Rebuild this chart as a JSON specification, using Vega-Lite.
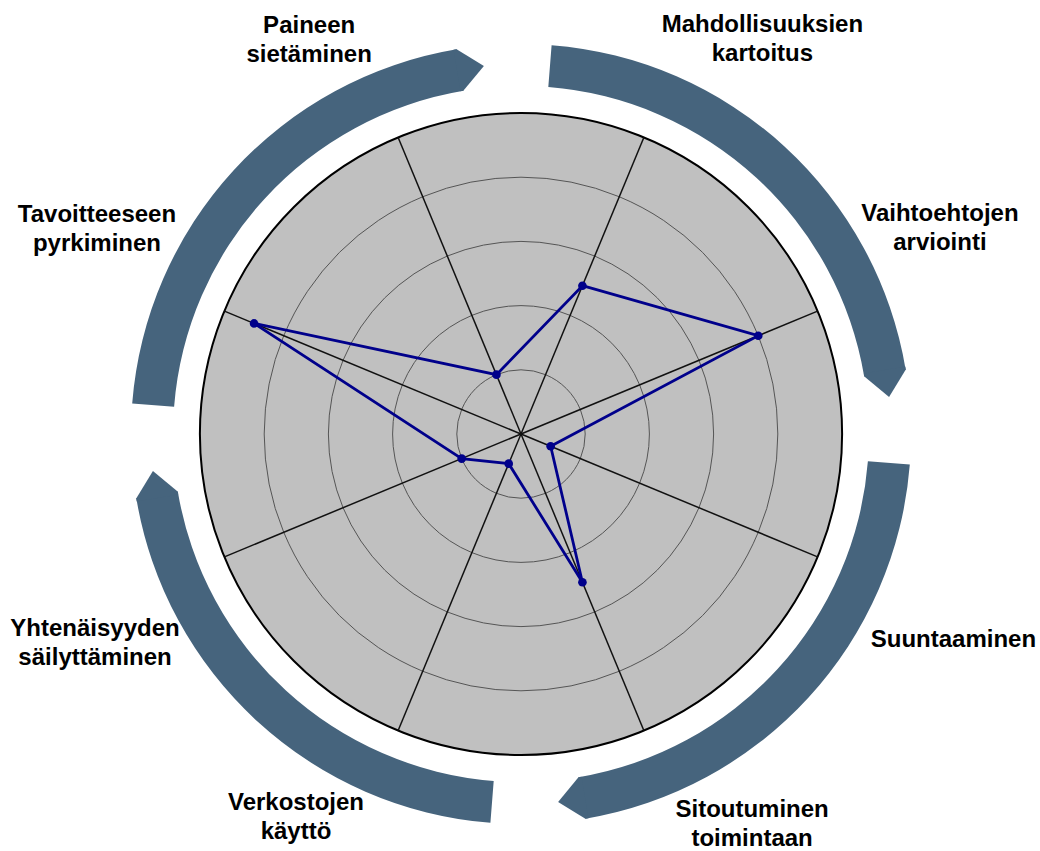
{
  "$schema": "https://vega.github.io/schema/vega-lite/v6.json",
  "width": 1040,
  "height": 851,
  "autosize": {"type": "none"},
  "padding": 0,
  "background": "white",
  "config": {"view": {"stroke": null}},
  "datasets": {
    "scores": [
      {"dimension": "Mahdollisuuksien kartoitus", "order": 1, "score": 5},
      {"dimension": "Vaihtoehtojen arviointi", "order": 2, "score": 8},
      {"dimension": "Suuntaaminen", "order": 3, "score": 1},
      {"dimension": "Sitoutuminen toimintaan", "order": 4, "score": 5},
      {"dimension": "Verkostojen käyttö", "order": 5, "score": 1},
      {"dimension": "Yhtenäisyyden säilyttäminen", "order": 6, "score": 2},
      {"dimension": "Tavoitteeseen pyrkiminen", "order": 7, "score": 9},
      {"dimension": "Paineen sietäminen", "order": 8, "score": 2}
    ],
    "rings": [{"level": 2}, {"level": 4}, {"level": 6}, {"level": 8}],
    "bands": [
      {"band": 1, "start": 4.5, "end": 80.5},
      {"band": 2, "start": 94.5, "end": 170.5},
      {"band": 3, "start": 184.5, "end": 260.5},
      {"band": 4, "start": 274.5, "end": 350.5}
    ],
    "labels": [
      {"label": "Mahdollisuuksien\nkartoitus", "lx": 7.52, "ly": 12.52},
      {"label": "Vaihtoehtojen\narviointi", "lx": 13.05, "ly": 6.64},
      {"label": "Suuntaaminen", "lx": 13.47, "ly": -6.64},
      {"label": "Sitoutuminen\ntoimintaan", "lx": 7.2, "ly": -11.93},
      {"label": "Verkostojen\nkäyttö", "lx": -7.01, "ly": -11.72},
      {"label": "Yhtenäisyyden\nsäilyttäminen", "lx": -13.27, "ly": -6.29},
      {"label": "Tavoitteeseen\npyrkiminen", "lx": -13.21, "ly": 6.6},
      {"label": "Paineen\nsietäminen", "lx": -6.6, "ly": 12.49}
    ]
  },
  "layer": [
    {
      "data": {"values": [{"disk": 1}]},
      "mark": {"type": "arc", "fill": "#c0c0c0", "stroke": "#000000", "strokeWidth": 2},
      "encoding": {
        "x": {"datum": 0, "type": "quantitative", "scale": {"domain": [-16.2305, 16.1682], "nice": false, "zero": false}, "axis": null},
        "y": {"datum": 0, "type": "quantitative", "scale": {"domain": [-12.9907, 13.5202], "nice": false, "zero": false}, "axis": null},
        "theta": {"datum": 0, "type": "quantitative", "scale": {"domain": [0, 360], "range": [0, 6.283185307179586]}},
        "theta2": {"datum": 360},
        "radius": {"datum": 10, "type": "quantitative", "scale": {"type": "linear", "domain": [0, 10], "range": [0, 321], "zero": true}}
      }
    },
    {
      "data": {"name": "rings"},
      "mark": {"type": "arc", "filled": false, "color": "#555555", "strokeWidth": 1},
      "encoding": {
        "x": {"datum": 0, "type": "quantitative", "scale": {"domain": [-16.2305, 16.1682], "nice": false, "zero": false}, "axis": null},
        "y": {"datum": 0, "type": "quantitative", "scale": {"domain": [-12.9907, 13.5202], "nice": false, "zero": false}, "axis": null},
        "theta": {"datum": 0, "type": "quantitative", "scale": {"domain": [0, 360], "range": [0, 6.283185307179586]}},
        "theta2": {"datum": 360},
        "radius": {"field": "level", "type": "quantitative", "stack": null, "scale": {"type": "linear", "domain": [0, 10], "range": [0, 321], "zero": true}}
      }
    },
    {
      "data": {"name": "scores"},
      "transform": [
        {"filter": "datum.order <= 4"},
        {"calculate": "(22.5 + 45 * (datum.order - 1)) * PI / 180", "as": "rad"},
        {"calculate": "10 * sin(datum.rad)", "as": "ex"},
        {"calculate": "10 * cos(datum.rad)", "as": "ey"},
        {"calculate": "-datum.ex", "as": "ox"},
        {"calculate": "-datum.ey", "as": "oy"}
      ],
      "mark": {"type": "rule", "color": "#111111", "strokeWidth": 1.5},
      "encoding": {
        "x": {"field": "ox", "type": "quantitative", "scale": {"domain": [-16.2305, 16.1682], "nice": false, "zero": false}, "axis": null},
        "y": {"field": "oy", "type": "quantitative", "scale": {"domain": [-12.9907, 13.5202], "nice": false, "zero": false}, "axis": null},
        "x2": {"field": "ex"},
        "y2": {"field": "ey"}
      }
    },
    {
      "data": {"name": "scores"},
      "transform": [
        {"calculate": "(22.5 + 45 * (datum.order - 1)) * PI / 180", "as": "rad"},
        {"calculate": "datum.score * sin(datum.rad)", "as": "px"},
        {"calculate": "datum.score * cos(datum.rad)", "as": "py"}
      ],
      "mark": {"type": "line", "interpolate": "linear-closed", "color": "#00008b", "strokeWidth": 2.8},
      "encoding": {
        "x": {"field": "px", "type": "quantitative", "scale": {"domain": [-16.2305, 16.1682], "nice": false, "zero": false}, "axis": null},
        "y": {"field": "py", "type": "quantitative", "scale": {"domain": [-12.9907, 13.5202], "nice": false, "zero": false}, "axis": null},
        "order": {"field": "order", "type": "quantitative"}
      }
    },
    {
      "data": {"name": "scores"},
      "transform": [
        {"calculate": "(22.5 + 45 * (datum.order - 1)) * PI / 180", "as": "rad"},
        {"calculate": "datum.score * sin(datum.rad)", "as": "px"},
        {"calculate": "datum.score * cos(datum.rad)", "as": "py"}
      ],
      "mark": {"type": "point", "filled": true, "color": "#00008b", "size": 75, "opacity": 1},
      "encoding": {
        "x": {"field": "px", "type": "quantitative", "scale": {"domain": [-16.2305, 16.1682], "nice": false, "zero": false}, "axis": null},
        "y": {"field": "py", "type": "quantitative", "scale": {"domain": [-12.9907, 13.5202], "nice": false, "zero": false}, "axis": null},
        "tooltip": [{"field": "dimension", "type": "nominal"}, {"field": "score", "type": "quantitative"}]
      }
    },
    {
      "data": {"name": "bands"},
      "mark": {"type": "arc", "fill": "#46647d", "strokeWidth": 0},
      "encoding": {
        "x": {"datum": 0, "type": "quantitative", "scale": {"domain": [-16.2305, 16.1682], "nice": false, "zero": false}, "axis": null},
        "y": {"datum": 0, "type": "quantitative", "scale": {"domain": [-12.9907, 13.5202], "nice": false, "zero": false}, "axis": null},
        "theta": {"field": "start", "type": "quantitative", "stack": null, "scale": {"domain": [0, 360], "range": [0, 6.283185307179586]}},
        "theta2": {"field": "end"},
        "radius": {"datum": 12.15, "type": "quantitative", "scale": {"type": "linear", "domain": [0, 10], "range": [0, 321], "zero": true}},
        "radius2": {"datum": 10.84}
      }
    },
    {
      "data": {"name": "bands"},
      "transform": [
        {"calculate": "datum.end * PI / 180", "as": "rad"},
        {"calculate": "11.5 * sin(datum.rad)", "as": "tx"},
        {"calculate": "11.5 * cos(datum.rad)", "as": "ty"}
      ],
      "mark": {"type": "point", "filled": true, "color": "#46647d", "opacity": 1, "strokeWidth": 0, "size": 1764, "shape": "M -0.15 -1 L 0 -1 L 1.15 0 L 0 1 L -0.15 1 Z"},
      "encoding": {
        "x": {"field": "tx", "type": "quantitative", "scale": {"domain": [-16.2305, 16.1682], "nice": false, "zero": false}, "axis": null},
        "y": {"field": "ty", "type": "quantitative", "scale": {"domain": [-12.9907, 13.5202], "nice": false, "zero": false}, "axis": null},
        "angle": {"field": "end", "type": "quantitative", "scale": {"domain": [0, 360], "range": [0, 360]}}
      }
    },
    {
      "data": {"name": "labels"},
      "mark": {"type": "text", "font": "Liberation Sans", "fontSize": 24, "fontWeight": "bold", "align": "center", "baseline": "alphabetic", "lineBreak": "\n", "lineHeight": 29, "color": "#000000"},
      "encoding": {
        "x": {"field": "lx", "type": "quantitative", "scale": {"domain": [-16.2305, 16.1682], "nice": false, "zero": false}, "axis": null},
        "y": {"field": "ly", "type": "quantitative", "scale": {"domain": [-12.9907, 13.5202], "nice": false, "zero": false}, "axis": null},
        "text": {"field": "label", "type": "nominal"}
      }
    }
  ]
}
